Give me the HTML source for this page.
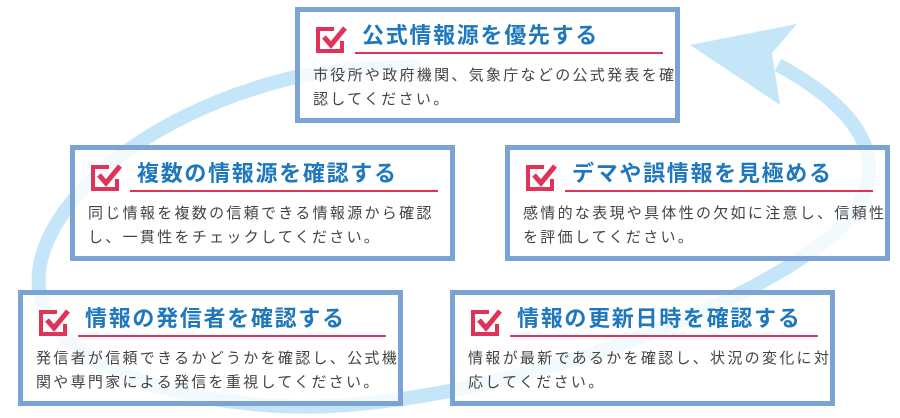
<!DOCTYPE html>
<html><head><meta charset="utf-8"><style>
body{margin:0;width:900px;height:418px;background:#fff;position:relative;overflow:hidden;font-family:"Liberation Sans","Noto Sans CJK JP",sans-serif}
.box{position:absolute;width:375px;height:106px;border:5px solid #7ba3d5;background:rgba(255,255,255,0.78)}
.ic{position:absolute;left:16px;top:13px}
.t{position:absolute;left:62px;top:8px;font-size:22px;font-weight:bold;color:#1f78be;letter-spacing:1.7px;white-space:nowrap;line-height:32px}
.u{position:absolute;left:55px;top:40px;width:308px;height:2px;background:#e0335a}
.b{position:absolute;left:13px;top:52px;font-size:15px;color:#444;letter-spacing:2.3px;line-height:24px;white-space:nowrap}
</style></head><body>
<svg width="900" height="418" style="position:absolute;left:0;top:0">
<path d="M420,66 C360,68 330,72 300,76 C130,115 25,220 40,295 C55,370 200,412 330,406 C500,398 720,320 820,245 C900,185 880,120 778,65" fill="none" stroke="#c5e6f8" stroke-width="14"/>
<polygon points="690,45 797,24 772,53 780,105" fill="#c5e6f8"/>
</svg>

<div class="box" style="left:295px;top:7px">
<svg class="ic" width="32" height="30"><path d="M18,4 H2 V26 H26 V16" fill="none" stroke="#e0335a" stroke-width="4"/><path d="M8,12 L15,20 L29,3" fill="none" stroke="#e0335a" stroke-width="5"/></svg>
<div class="t">公式情報源を優先する</div><div class="u"></div>
<div class="b">市役所や政府機関、気象庁などの公式発表を確<br>認してください。</div></div>

<div class="box" style="left:70px;top:145px">
<svg class="ic" width="32" height="30"><path d="M18,4 H2 V26 H26 V16" fill="none" stroke="#e0335a" stroke-width="4"/><path d="M8,12 L15,20 L29,3" fill="none" stroke="#e0335a" stroke-width="5"/></svg>
<div class="t">複数の情報源を確認する</div><div class="u"></div>
<div class="b">同じ情報を複数の信頼できる情報源から確認<br>し、一貫性をチェックしてください。</div></div>

<div class="box" style="left:505px;top:145px">
<svg class="ic" width="32" height="30"><path d="M18,4 H2 V26 H26 V16" fill="none" stroke="#e0335a" stroke-width="4"/><path d="M8,12 L15,20 L29,3" fill="none" stroke="#e0335a" stroke-width="5"/></svg>
<div class="t">デマや誤情報を見極める</div><div class="u"></div>
<div class="b">感情的な表現や具体性の欠如に注意し、信頼性<br>を評価してください。</div></div>

<div class="box" style="left:18px;top:290px">
<svg class="ic" width="32" height="30"><path d="M18,4 H2 V26 H26 V16" fill="none" stroke="#e0335a" stroke-width="4"/><path d="M8,12 L15,20 L29,3" fill="none" stroke="#e0335a" stroke-width="5"/></svg>
<div class="t">情報の発信者を確認する</div><div class="u"></div>
<div class="b">発信者が信頼できるかどうかを確認し、公式機<br>関や専門家による発信を重視してください。</div></div>

<div class="box" style="left:450px;top:290px">
<svg class="ic" width="32" height="30"><path d="M18,4 H2 V26 H26 V16" fill="none" stroke="#e0335a" stroke-width="4"/><path d="M8,12 L15,20 L29,3" fill="none" stroke="#e0335a" stroke-width="5"/></svg>
<div class="t">情報の更新日時を確認する</div><div class="u"></div>
<div class="b">情報が最新であるかを確認し、状況の変化に対<br>応してください。</div></div>
</body></html>
